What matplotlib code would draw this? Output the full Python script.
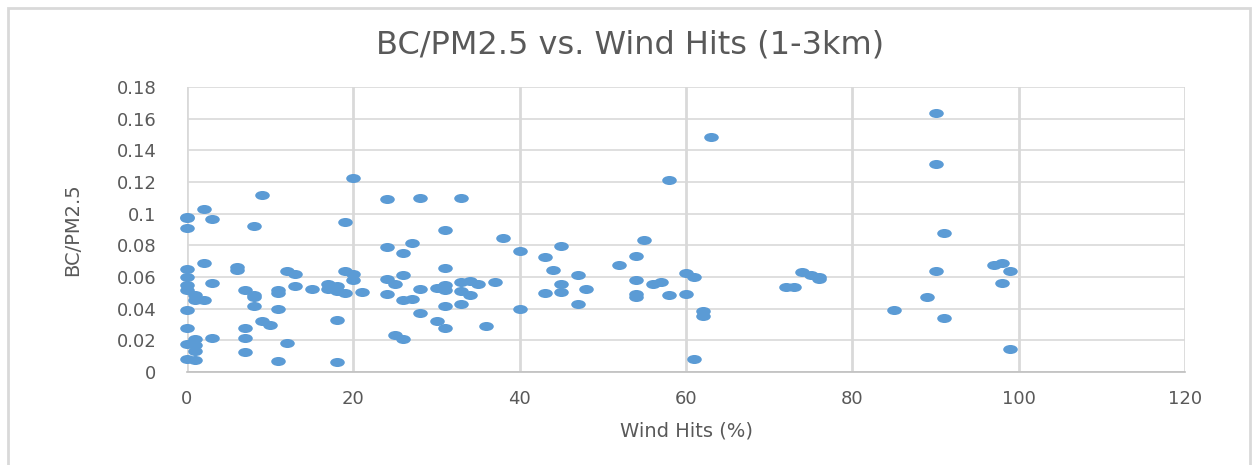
import matplotlib
matplotlib.use('Agg')
import matplotlib.pyplot as plt
from matplotlib.path import Path
from matplotlib.patches import Rectangle
import numpy as np

wind_hits = [0, 0, 0, 0, 0, 0, 0, 0, 0, 0, 0,
             1, 1, 1, 1, 1, 1,
             2, 2, 2,
             3, 3, 3,
             6, 6,
             7, 7, 7, 7,
             8, 8, 8, 8,
             9, 9,
             10,
             11, 11, 11, 11,
             12, 12,
             13, 13,
             15,
             17, 17,
             18, 18, 18, 18,
             19, 19, 19,
             20, 20, 20,
             21,
             24, 24, 24, 24,
             25, 25,
             26, 26, 26, 26,
             27, 27,
             28, 28, 28,
             30, 30,
             31, 31, 31, 31, 31, 31,
             33, 33, 33, 33,
             34, 34,
             35, 36, 37, 38,
             40, 40,
             43, 43,
             44,
             45, 45, 45,
             47, 47,
             48, 52,
             54, 54, 54, 54,
             55, 56, 57,
             58, 58,
             60, 60,
             61, 61,
             62, 62,
             63,
             72, 73, 74, 75, 76, 76,
             85, 89,
             90, 90, 90,
             91, 91,
             97,
             98, 98,
             99, 99]

bc_pm25 = [0.098, 0.097, 0.091, 0.065, 0.060, 0.055, 0.052, 0.039, 0.028, 0.018, 0.008,
           0.0486, 0.0455, 0.021, 0.017, 0.0135, 0.0076,
           0.103, 0.069, 0.0455,
           0.0965, 0.0564, 0.0217,
           0.0665, 0.0645,
           0.052, 0.028, 0.0217, 0.0126,
           0.092, 0.0487, 0.0474, 0.0417,
           0.112, 0.032,
           0.030,
           0.052, 0.050, 0.040, 0.007,
           0.064, 0.0185,
           0.0617, 0.0545,
           0.0524,
           0.0556, 0.0522,
           0.0545, 0.051, 0.0328, 0.0063,
           0.095, 0.064, 0.0497,
           0.1227, 0.062, 0.058,
           0.0507,
           0.109, 0.079, 0.059, 0.0494,
           0.0554, 0.0232,
           0.075, 0.061, 0.0455, 0.021,
           0.0817, 0.046,
           0.110, 0.0526, 0.0372,
           0.053, 0.032,
           0.0897, 0.0655, 0.055, 0.052, 0.0417, 0.028,
           0.110, 0.0566, 0.0513, 0.043,
           0.0575, 0.0486,
           0.0554, 0.0292, 0.057, 0.0846,
           0.0764, 0.040,
           0.0726, 0.0497,
           0.0646,
           0.0796, 0.0558, 0.0505,
           0.0615, 0.043,
           0.0526, 0.0674,
           0.073, 0.0583, 0.049, 0.0476,
           0.0834, 0.0554, 0.057,
           0.1213, 0.0488,
           0.0623, 0.0494,
           0.0598, 0.0084,
           0.0387, 0.0354,
           0.1482,
           0.0535, 0.0535, 0.063, 0.061, 0.060, 0.059,
           0.039, 0.0474,
           0.1638, 0.1316, 0.064,
           0.088, 0.034,
           0.0674,
           0.0689, 0.0564,
           0.064, 0.0147]

x_ticks = [0, 20, 40, 60, 80, 100, 120]
y_ticks = [0, 0.02, 0.04, 0.06, 0.08, 0.1, 0.12, 0.14, 0.16, 0.18]

text_color = '#595959'
grid_color = '#d9d9d9'

# wide ellipse marker (the chart is stretched horizontally)
circle = Path.unit_circle()
ellipse = Path(circle.vertices * np.array([1.0, 0.62]), circle.codes)

fig = plt.figure(figsize=(12.53, 4.65), dpi=100)
ax = fig.add_axes([187 / 1253, 1 - 372 / 465, 998 / 1253, 285 / 465])

ax.plot(wind_hits, bc_pm25, linestyle='none', marker=ellipse, markersize=10.5,
        color='#5b9bd5', markeredgewidth=0, zorder=3, clip_on=False)

ax.set_xlim(0, 120)
ax.set_ylim(0, 0.18)
ax.set_xticks(x_ticks)
ax.set_xticklabels([str(v) for v in x_ticks])
ax.set_yticks(y_ticks)
ax.set_yticklabels(['0', '0.02', '0.04', '0.06', '0.08', '0.1', '0.12', '0.14', '0.16', '0.18'])
ax.tick_params(axis='both', length=0, labelsize=13, colors=text_color)
ax.tick_params(axis='y', pad=22)
ax.tick_params(axis='x', pad=13)

ax.xaxis.grid(True, color=grid_color, linewidth=2.0)
ax.yaxis.grid(True, color=grid_color, linewidth=1.2)
ax.set_axisbelow(True)
for side in ['top', 'right', 'left']:
    ax.spines[side].set_visible(False)
ax.spines['bottom'].set_color('#bfbfbf')
ax.spines['bottom'].set_linewidth(1.2)

ax.set_xlabel('Wind Hits (%)', fontsize=14, color=text_color)
ax.xaxis.set_label_coords(0.5, -0.175)
ax.set_ylabel('BC/PM2.5', fontsize=14, color=text_color)
ax.yaxis.set_label_coords(-0.105, 0.5)

fig.text(0.503, 1 - 45 / 465, 'BC/PM2.5 vs. Wind Hits (1-3km)', fontsize=23,
         color=text_color, ha='center', va='center')

# chart border
fig.patches.append(Rectangle((8 / 1253, -0.02), 1242 / 1253, 1 - 8 / 465 + 0.02,
                             transform=fig.transFigure, fill=False,
                             edgecolor='#d9d9d9', linewidth=2))

fig.savefig('out.png', dpi=100)
